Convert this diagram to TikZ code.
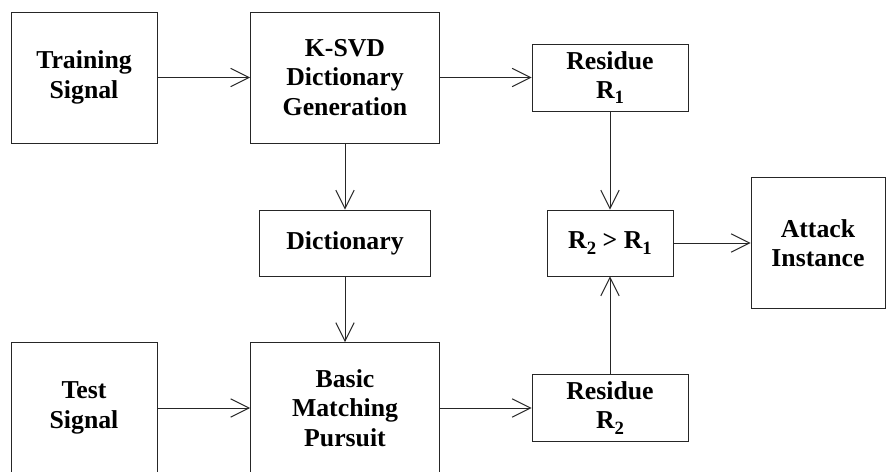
\documentclass[tikz,border=0pt]{standalone}
\usepackage{fontspec}
\setmainfont{Liberation Serif}
\usetikzlibrary{arrows.meta, positioning}

\newcommand{\Rsub}[1]{R\raisebox{-0.45ex}{\fontsize{16}{16}\selectfont #1}}

\begin{document}
\begin{tikzpicture}[x=0.03cm, y=-0.03cm,
    block/.style={draw=black!85, line width=0.8pt, align=center, inner sep=0pt,
      font=\fontsize{22}{25}\selectfont\bfseries},
    flow/.style={draw=black!85, line width=0.8pt,
      -{Straight Barb[length=5.5mm, width=5.5mm, line width=0.8pt]}}]
  \clip (0,0) rectangle (896,471);

  % top row
  \node[block, minimum width=4.38cm, minimum height=3.93cm] (train) at (84,77.5) {Training\\Signal};
  \node[block, minimum width=5.67cm, minimum height=3.93cm] (ksvd) at (345,77.5) {K-SVD\\Dictionary\\Generation};
  \node[block, minimum width=4.68cm, minimum height=2.01cm] (res1) at (610,77.5) {Residue\\\Rsub{1}};

  % middle row
  \node[block, minimum width=5.13cm, minimum height=1.98cm] (dict) at (345,243) {Dictionary};
  \node[block, minimum width=3.78cm, minimum height=1.98cm] (cmp) at (610,243) {\Rsub{2} > \Rsub{1}};
  \node[block, minimum width=4.02cm, minimum height=3.93cm] (attack) at (818,243) {Attack\\Instance};

  % bottom row
  \node[block, minimum width=4.38cm, minimum height=3.93cm] (test) at (84,408) {Test\\Signal};
  \node[block, minimum width=5.67cm, minimum height=3.93cm] (bmp) at (345,408) {Basic\\Matching\\Pursuit};
  \node[block, minimum width=4.68cm, minimum height=2.01cm] (res2) at (610,408) {Residue\\\Rsub{2}};

  \draw[flow] (train) -- (ksvd);
  \draw[flow] (ksvd) -- (res1);
  \draw[flow] (ksvd) -- (dict);
  \draw[flow] (dict) -- (bmp);
  \draw[flow] (test) -- (bmp);
  \draw[flow] (bmp) -- (res2);
  \draw[flow] (res1) -- (cmp);
  \draw[flow] (res2) -- (cmp);
  \draw[flow] (cmp) -- (attack);
\end{tikzpicture}
\end{document}
